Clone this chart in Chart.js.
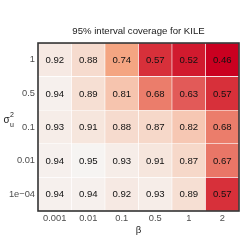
<!DOCTYPE html>
<html><head><meta charset="utf-8">
<script src="https://cdn.jsdelivr.net/npm/chart.js@4/dist/chart.umd.min.js"></script>
<style>html,body{margin:0;padding:0;background:#fff}</style>
</head><body>
<canvas id="c" width="243" height="242" style="display:block;width:243px;height:242px"></canvas>
<script>
// x categories (beta)
const betaLabels = ['0.001', '0.01', '0.1', '0.5', '1', '2'];
// y categories (sigma_u^2), top to bottom
const sigmaLabels = ['1', '0.5', '0.1', '0.01', '1e\u221204'];
// coverage values per row (top to bottom)
const rowSigma1    = [0.92, 0.88, 0.74, 0.57, 0.52, 0.46];
const rowSigma05   = [0.94, 0.89, 0.81, 0.68, 0.63, 0.57];
const rowSigma01   = [0.93, 0.91, 0.88, 0.87, 0.82, 0.68];
const rowSigma001  = [0.94, 0.95, 0.93, 0.91, 0.87, 0.67];
const rowSigma1e4  = [0.94, 0.94, 0.92, 0.93, 0.89, 0.57];
const rowsTopToBottom = [rowSigma1, rowSigma05, rowSigma01, rowSigma001, rowSigma1e4];

// colour scale stops (value -> rgb)
const scaleStops = [
  [0.46, [202, 0, 32]],
  [0.57, [215, 48, 58]],
  [0.63, [226, 90, 88]],
  [0.68, [235, 125, 107]],
  [0.74, [244, 165, 130]],
  [0.81, [246, 196, 174]],
  [0.88, [246, 219, 206]],
  [0.95, [246, 244, 242]]
];
function colorFor(v) {
  if (v <= scaleStops[0][0]) return 'rgb(' + scaleStops[0][1].join(',') + ')';
  for (let i = 1; i < scaleStops.length; i++) {
    const [v1, c1] = scaleStops[i];
    const [v0, c0] = scaleStops[i - 1];
    if (v <= v1) {
      const t = (v - v0) / (v1 - v0);
      const c = c0.map((a, k) => Math.round(a + (c1[k] - a) * t));
      return 'rgb(' + c.join(',') + ')';
    }
  }
  return 'rgb(' + scaleStops[scaleStops.length - 1][1].join(',') + ')';
}

const FONT = "'Liberation Sans', Arial, Helvetica, sans-serif";

// datasets stacked bottom -> top
const datasets = rowsTopToBottom.slice().reverse().map((vals) => ({
  data: vals.map(() => 1),
  values: vals,
  backgroundColor: vals.map(colorFor),
  borderColor: '#ffffff',
  borderWidth: 0.6,
  borderSkipped: false,
  barPercentage: 1,
  categoryPercentage: 1,
  stack: 's'
}));

const cellText = {
  id: 'cellText',
  afterDatasetsDraw(chart) {
    const ctx = chart.ctx;
    ctx.save();
    ctx.font = '9.6px ' + FONT;
    ctx.fillStyle = '#111111';
    ctx.textAlign = 'center';
    ctx.textBaseline = 'middle';
    chart.data.datasets.forEach((ds, di) => {
      const meta = chart.getDatasetMeta(di);
      meta.data.forEach((el, i) => {
        ctx.fillText(ds.values[i].toFixed(2), el.x, (el.y + el.base) / 2 + 0.5);
      });
    });
    ctx.restore();
  }
};

const frame = {
  id: 'frame',
  afterDraw(chart) {
    const {ctx, chartArea: a} = chart;
    ctx.save();
    ctx.strokeStyle = '#333333';
    ctx.lineWidth = 1.6;
    ctx.strokeRect(a.left, a.top, a.right - a.left, a.bottom - a.top);
    // y axis title: sigma_u^2
    ctx.fillStyle = '#1a1a1a';
    ctx.textBaseline = 'alphabetic';
    ctx.textAlign = 'left';
    ctx.font = '10px ' + FONT;
    ctx.fillText('\u03c3', 3.5, 123);
    ctx.font = '7px ' + FONT;
    ctx.fillText('2', 10, 117);
    ctx.fillText('u', 10, 127);
    ctx.restore();
  }
};

new Chart(document.getElementById('c'), {
  type: 'bar',
  data: { labels: betaLabels, datasets },
  options: {
    responsive: false,
    animation: false,
    layout: { padding: { left: 0, right: 4, top: 0, bottom: 0 } },
    plugins: {
      legend: { display: false },
      tooltip: { enabled: false },
      title: {
        display: true,
        fullSize: false,
        text: '95% interval coverage for KILE',
        color: '#1a1a1a',
        font: { family: FONT, size: 9.6, weight: 'normal', lineHeight: 1.2 },
        padding: { top: 26, bottom: 5.5 }
      }
    },
    scales: {
      x: {
        stacked: true,
        grid: { display: false, drawTicks: false },
        border: { display: false },
        ticks: { color: '#4d4d4d', font: { family: FONT, size: 9.3 }, padding: 2, maxRotation: 0 },
        title: { display: true, text: '\u03b2', color: '#1a1a1a', font: { family: FONT, size: 9.6 }, padding: { top: 0, bottom: 6 } },
        afterFit(s) { s.height = 31; }
      },
      y: {
        stacked: true,
        min: 0, max: 5,
        grid: { display: false, drawTicks: false },
        border: { display: false },
        afterBuildTicks(s) { s.ticks = [0.5, 1.5, 2.5, 3.5, 4.5].map(v => ({ value: v })); },
        ticks: {
          color: '#4d4d4d', font: { family: FONT, size: 9.3 }, padding: 3,
          callback: (v, i) => sigmaLabels[4 - i]
        },
        afterFit(s) { s.width = 38; }
      }
    }
  },
  plugins: [cellText, frame]
});
</script>
</body></html>
